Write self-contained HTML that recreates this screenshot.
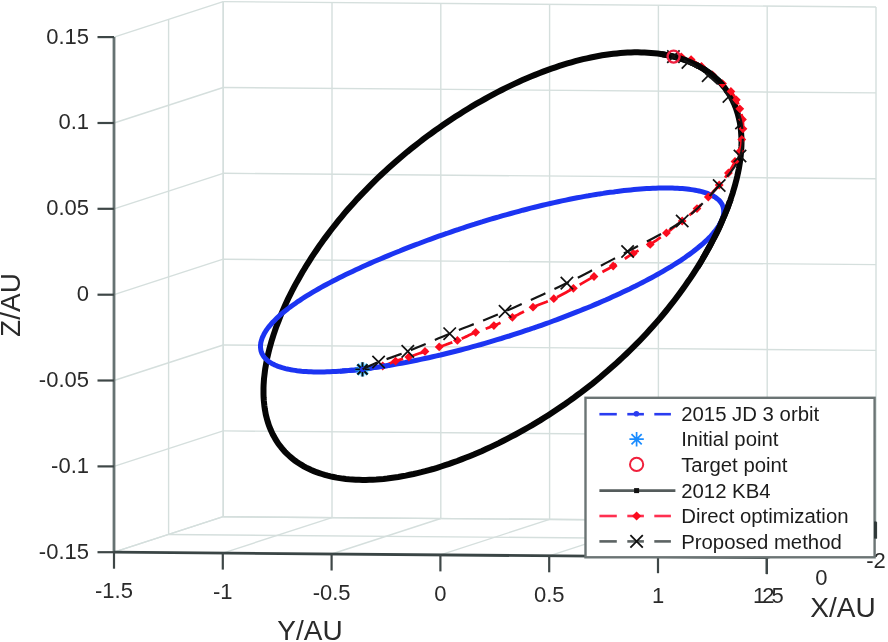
<!DOCTYPE html>
<html><head><meta charset="utf-8"><style>html,body{margin:0;padding:0;background:#fff;width:888px;height:642px;overflow:hidden}svg{display:block;filter:blur(0.35px)}</style></head>
<body>
<svg width="888" height="642" viewBox="0 0 888 642">
<style>
.g{stroke:#d5dfdd;stroke-width:1.4;fill:none}
.ax{stroke:#667272;stroke-width:2.8;fill:none}
.axy{stroke:#3a4545;stroke-width:2.8;fill:none}
.tk{stroke:#3e4747;stroke-width:2.2;fill:none}
.tl{font-family:"Liberation Sans",sans-serif;font-size:22px;fill:#2a2a2a}
.al{font-family:"Liberation Sans",sans-serif;font-size:28px;fill:#2a2a2a}
.lt{font-family:"Liberation Sans",sans-serif;font-size:20.35px;fill:#1c1c1c}
.kb{stroke:#050505;stroke-width:6;fill:none}
.jd{stroke:#1c34f2;stroke-width:5;fill:none}
.rd{stroke:#fb0c1e;stroke-width:2.8;fill:none;stroke-dasharray:16 10}
.bd{stroke:#151515;stroke-width:2.2;fill:none;stroke-dasharray:16 10}
.dm{fill:#fb0c1e}
.xm{stroke:#111;stroke-width:1.7;fill:none}
.as{stroke:#0a0a0a;stroke-width:1.9;fill:none}
.as2{stroke:#28b8ff;stroke-width:3.6;fill:none;opacity:.8}
.lb{fill:#fff;stroke:#6b7474;stroke-width:2.4}
.lbl{stroke:#2a3cf0;stroke-width:2.6}
.las{stroke:#1a8cff;stroke-width:1.7;fill:none}
.lci{stroke:#f0203c;stroke-width:2;fill:none}
.lk{stroke:#555c5c;stroke-width:2.6}
.lrd{stroke:#ff3050;stroke-width:2.6}
.lgd{stroke:#5c6363;stroke-width:2.6}
.lxm{stroke:#111;stroke-width:1.8;fill:none}
</style>
<rect width="888" height="642" fill="#fff"/>
<line x1="223.2" y1="516.7" x2="223.2" y2="1.6" class="g"/><line x1="332.0" y1="517.6" x2="332.0" y2="2.5" class="g"/><line x1="440.8" y1="518.5" x2="440.8" y2="3.4" class="g"/><line x1="549.6" y1="519.4" x2="549.6" y2="4.3" class="g"/><line x1="658.4" y1="520.3" x2="658.4" y2="5.2" class="g"/><line x1="767.2" y1="521.2" x2="767.2" y2="6.1" class="g"/><line x1="876.0" y1="522.1" x2="876.0" y2="7.0" class="g"/><line x1="223.2" y1="516.7" x2="876.0" y2="522.1" class="g"/><line x1="223.2" y1="430.9" x2="876.0" y2="436.3" class="g"/><line x1="223.2" y1="345.0" x2="876.0" y2="350.4" class="g"/><line x1="223.2" y1="259.2" x2="876.0" y2="264.6" class="g"/><line x1="223.2" y1="173.3" x2="876.0" y2="178.7" class="g"/><line x1="223.2" y1="87.5" x2="876.0" y2="92.9" class="g"/><line x1="223.2" y1="1.6" x2="876.0" y2="7.0" class="g"/><line x1="223.2" y1="516.7" x2="223.2" y2="1.6" class="g"/><line x1="168.6" y1="534.5" x2="168.6" y2="19.4" class="g"/><line x1="114.0" y1="552.2" x2="223.2" y2="516.7" class="g"/><line x1="114.0" y1="466.4" x2="223.2" y2="430.9" class="g"/><line x1="114.0" y1="380.5" x2="223.2" y2="345.0" class="g"/><line x1="114.0" y1="294.7" x2="223.2" y2="259.2" class="g"/><line x1="114.0" y1="208.8" x2="223.2" y2="173.3" class="g"/><line x1="114.0" y1="123.0" x2="223.2" y2="87.5" class="g"/><line x1="114.0" y1="37.1" x2="223.2" y2="1.6" class="g"/><line x1="114.0" y1="552.2" x2="223.2" y2="516.7" class="g"/><line x1="222.8" y1="553.1" x2="332.0" y2="517.6" class="g"/><line x1="331.6" y1="554.0" x2="440.8" y2="518.5" class="g"/><line x1="440.4" y1="554.9" x2="549.6" y2="519.4" class="g"/><line x1="549.2" y1="555.8" x2="658.4" y2="520.3" class="g"/><line x1="658.0" y1="556.7" x2="767.2" y2="521.2" class="g"/><line x1="766.8" y1="557.6" x2="876.0" y2="522.1" class="g"/><line x1="223.2" y1="516.7" x2="876.0" y2="522.1" class="g"/><line x1="168.6" y1="534.5" x2="821.4" y2="539.9" class="g"/>
<path d="M407.3,151.8 L411.2,148.7 L415.1,145.6 L419.1,142.5 L423.0,139.4 L427.0,136.4 L431.1,133.5 L435.1,130.5 L439.2,127.7 L443.3,124.8 L447.4,122.0 L451.5,119.3 L455.6,116.6 L459.8,113.9 L463.9,111.3 L468.1,108.7 L472.3,106.2 L476.5,103.7 L480.7,101.3 L484.9,99.0 L489.1,96.7 L493.3,94.4 L497.5,92.2 L501.7,90.0 L505.9,87.9 L510.1,85.9 L514.3,83.9 L518.4,82.0 L522.6,80.1 L526.8,78.3 L530.9,76.5 L535.0,74.9 L539.1,73.2 L543.2,71.6 L547.3,70.1 L551.4,68.7 L555.4,67.3 L559.4,65.9 L563.4,64.6 L567.4,63.4 L571.4,62.3 L575.3,61.2 L579.2,60.2 L583.1,59.2 L587.0,58.3 L590.8,57.5 L594.6,56.7 L598.4,56.0 L602.1,55.3 L605.9,54.7 L609.5,54.2 L613.2,53.8 L616.8,53.4 L620.4,53.0 L624.0,52.8 L627.5,52.6 L631.0,52.4 L634.4,52.3 L637.9,52.3 L641.2,52.4 L644.6,52.5 L647.9,52.7 L651.1,52.9 L654.4,53.2 L657.6,53.6 L660.7,54.0 L663.8,54.5 L666.8,55.1 L669.8,55.7 L672.8,56.4 L675.7,57.1 L678.6,57.9 L681.4,58.8 L684.1,59.7 L686.8,60.7 L689.5,61.8 L692.1,62.9 L694.6,64.1 L697.1,65.3 L699.6,66.6 L701.9,68.0 L704.3,69.4 L706.5,70.9 L708.7,72.4 L710.8,74.0 L712.9,75.6 L714.9,77.4 L716.8,79.1 L718.7,80.9 L720.5,82.8 L722.2,84.8 L723.8,86.7 L725.4,88.8 L726.9,90.9 L728.4,93.0 L729.8,95.3 L731.1,97.5 L732.3,99.8 L733.4,102.2 L734.5,104.6 L735.5,107.1 L736.4,109.6 L737.2,112.1 L738.0,114.7 L738.7,117.4 L739.3,120.1 L739.9,122.9 L740.3,125.6 L740.7,128.5 L741.0,131.4 L741.2,134.3 L741.4,137.2 L741.5,140.3 L741.5,143.3 L741.4,146.4 L741.2,149.5 L741.0,152.7 L740.7,155.9 L740.3,159.1 L739.9,162.3 L739.4,165.6 L738.8,169.0 L738.1,172.3 L737.4,175.7 L736.6,179.1 L735.7,182.6 L734.8,186.0 L733.7,189.5 L732.7,193.1 L731.5,196.6 L730.3,200.2 L729.0,203.8 L727.7,207.4 L726.3,211.0 L724.8,214.6 L723.2,218.3 L721.6,222.0 L720.0,225.7 L718.3,229.4 L716.5,233.1 L714.6,236.8 L712.7,240.5 L710.7,244.3 L708.7,248.0 L706.6,251.8 L704.5,255.5 L702.3,259.3 L700.0,263.1 L697.7,266.8 L695.3,270.6 L692.9,274.3 L690.4,278.1 L687.8,281.8 L685.2,285.6 L682.6,289.3 L679.9,293.0 L677.1,296.8 L674.3,300.5 L671.4,304.2 L668.5,307.9 L665.6,311.5 L662.5,315.2 L659.5,318.8 L656.4,322.4 L653.2,326.0 L650.0,329.6 L646.7,333.2 L643.4,336.7 L640.1,340.2 L636.7,343.7 L633.2,347.2 L629.7,350.6 L626.2,354.0 L622.6,357.4 L619.0,360.7 L615.4,364.1 L611.7,367.3 L608.0,370.6 L604.2,373.8 L600.5,377.0 L596.6,380.2 L592.8,383.3 L588.9,386.3 L585.0,389.4 L581.1,392.4 L577.1,395.3 L573.1,398.3 L569.1,401.1 L565.1,404.0 L561.0,406.8 L556.9,409.5 L552.8,412.2 L548.7,414.9 L544.6,417.5 L540.5,420.1 L536.3,422.6 L532.2,425.1 L528.0,427.5 L523.8,429.9 L519.7,432.2 L515.5,434.5 L511.3,436.7 L507.1,438.9 L502.9,441.0 L498.8,443.1 L494.6,445.1 L490.4,447.1 L486.2,449.0 L482.1,450.9 L477.9,452.7 L473.8,454.5 L469.6,456.2 L465.5,457.8 L461.4,459.4 L457.3,461.0 L453.2,462.4 L449.2,463.9 L445.1,465.2 L441.1,466.5 L437.1,467.8 L433.1,469.0 L429.1,470.1 L425.2,471.2 L421.3,472.2 L417.4,473.1 L413.5,474.0 L409.6,474.8 L405.8,475.6 L402.0,476.3 L398.3,477.0 L394.5,477.5 L390.8,478.0 L387.2,478.5 L383.5,478.9 L379.9,479.2 L376.3,479.5 L372.8,479.7 L369.3,479.8 L365.9,479.9 L362.4,479.9 L359.1,479.8 L355.7,479.7 L352.4,479.5 L349.2,479.3 L345.9,479.0 L342.8,478.6 L339.7,478.1 L336.6,477.6 L333.6,477.0 L330.6,476.4 L327.7,475.7 L324.8,474.9 L322.0,474.0 L319.2,473.1 L316.5,472.2 L313.8,471.1 L311.2,470.0 L308.7,468.8 L306.2,467.6 L303.8,466.3 L301.5,464.9 L299.2,463.5 L296.9,462.0 L294.8,460.5 L292.7,458.8 L290.7,457.2 L288.7,455.4 L286.8,453.6 L285.0,451.8 L283.2,449.9 L281.6,447.9 L280.0,445.8 L278.4,443.8 L277.0,441.6 L275.6,439.4 L274.3,437.1 L273.0,434.8 L271.9,432.5 L270.8,430.1 L269.8,427.6 L268.8,425.1 L268.0,422.5 L267.2,419.9 L266.5,417.2 L265.8,414.5 L265.3,411.7 L264.8,408.9 L264.4,406.1 L264.1,403.2 L263.8,400.3 L263.6,397.3 L263.5,394.3 L263.5,391.3 L263.5,388.2 L263.6,385.0 L263.8,381.9 L264.0,378.7 L264.4,375.5 L264.8,372.2 L265.2,368.9 L265.8,365.6 L266.4,362.3 L267.0,358.9 L267.8,355.5 L268.6,352.1 L269.5,348.6 L270.4,345.2 L271.4,341.7 L272.5,338.2 L273.6,334.6 L274.8,331.1 L276.0,327.5 L277.4,323.9 L278.8,320.3 L280.2,316.7 L281.7,313.1 L283.3,309.4 L284.9,305.8 L286.6,302.1 L288.3,298.4 L290.2,294.7 L292.0,291.0 L293.9,287.3 L295.9,283.6 L298.0,279.9 L300.1,276.2 L302.2,272.5 L304.5,268.8 L306.7,265.0 L309.1,261.3 L311.4,257.6 L313.9,253.9 L316.4,250.2 L318.9,246.5 L321.6,242.8 L324.2,239.1 L327.0,235.4 L329.7,231.7 L332.6,228.0 L335.5,224.4 L338.4,220.7 L341.4,217.1 L344.4,213.4 L347.5,209.8 L350.7,206.2 L353.9,202.7 L357.1,199.1 L360.4,195.6 L363.8,192.1 L367.2,188.6 L370.6,185.1 L374.1,181.6 L377.6,178.2 L381.2,174.8 L384.8,171.4 L388.5,168.1 L392.2,164.8 L395.9,161.5 L399.7,158.2 L403.5,155.0Z" class="kb"/>
<path d="M723.2,207.3 L722.9,206.3 L722.5,205.4 L722.1,204.4 L721.6,203.5 L721.0,202.7 L720.4,201.8 L719.7,201.0 L718.9,200.1 L718.0,199.4 L717.1,198.6 L716.1,197.9 L715.1,197.1 L714.0,196.5 L712.8,195.8 L711.5,195.1 L710.2,194.5 L708.8,194.0 L707.4,193.4 L705.8,192.9 L704.2,192.4 L702.6,191.9 L700.8,191.4 L699.0,191.0 L697.2,190.6 L695.2,190.2 L693.2,189.9 L691.2,189.6 L689.0,189.3 L686.9,189.0 L684.6,188.8 L682.3,188.6 L679.9,188.4 L677.4,188.3 L674.9,188.2 L672.4,188.1 L669.7,188.0 L667.1,188.0 L664.3,188.0 L661.5,188.0 L658.7,188.1 L655.8,188.2 L652.8,188.3 L649.8,188.4 L646.7,188.6 L643.6,188.8 L640.5,189.0 L637.3,189.3 L634.0,189.6 L630.7,189.9 L627.4,190.2 L624.0,190.6 L620.6,191.0 L617.2,191.4 L613.7,191.9 L610.2,192.3 L606.6,192.8 L603.0,193.4 L599.4,193.9 L595.8,194.5 L592.1,195.1 L588.4,195.8 L584.7,196.4 L581.0,197.1 L577.2,197.8 L573.4,198.5 L569.6,199.3 L565.8,200.1 L561.9,200.9 L558.1,201.7 L554.2,202.6 L550.3,203.5 L546.4,204.4 L542.5,205.3 L538.6,206.2 L534.6,207.2 L530.7,208.2 L526.7,209.2 L522.7,210.2 L518.8,211.3 L514.8,212.4 L510.8,213.5 L506.8,214.6 L502.8,215.7 L498.8,216.9 L494.8,218.0 L490.8,219.2 L486.7,220.4 L482.7,221.7 L478.7,222.9 L474.7,224.2 L470.7,225.4 L466.7,226.7 L462.7,228.0 L458.7,229.4 L454.7,230.7 L450.7,232.1 L446.7,233.5 L442.7,234.8 L438.7,236.2 L434.7,237.7 L430.8,239.1 L426.8,240.5 L422.9,242.0 L419.0,243.5 L415.1,244.9 L411.2,246.4 L407.3,247.9 L403.5,249.4 L399.7,251.0 L395.8,252.5 L392.1,254.0 L388.3,255.6 L384.6,257.1 L380.9,258.7 L377.2,260.3 L373.6,261.8 L370.0,263.4 L366.4,265.0 L362.9,266.6 L359.4,268.2 L355.9,269.8 L352.5,271.4 L349.1,273.0 L345.8,274.6 L342.5,276.2 L339.3,277.8 L336.1,279.4 L333.0,281.0 L330.0,282.6 L326.9,284.2 L324.0,285.8 L321.1,287.4 L318.3,289.0 L315.5,290.6 L312.8,292.2 L310.1,293.8 L307.5,295.4 L305.0,296.9 L302.5,298.5 L300.2,300.1 L297.8,301.6 L295.6,303.2 L293.4,304.7 L291.3,306.2 L289.2,307.7 L287.3,309.3 L285.4,310.7 L283.5,312.2 L281.8,313.7 L280.1,315.2 L278.5,316.6 L276.9,318.1 L275.5,319.5 L274.1,320.9 L272.7,322.3 L271.5,323.7 L270.3,325.1 L269.2,326.4 L268.1,327.8 L267.1,329.1 L266.2,330.4 L265.4,331.7 L264.6,333.0 L263.9,334.3 L263.3,335.6 L262.7,336.8 L262.2,338.0 L261.8,339.2 L261.4,340.4 L261.1,341.6 L260.8,342.7 L260.7,343.9 L260.5,345.0 L260.5,346.1 L260.5,347.1 L260.6,348.2 L260.7,349.2 L260.9,350.3 L261.1,351.3 L261.5,352.2 L261.8,353.2 L262.3,354.1 L262.8,355.1 L263.3,355.9 L263.9,356.8 L264.6,357.7 L265.4,358.5 L266.2,359.3 L267.0,360.1 L267.9,360.9 L268.9,361.6 L270.0,362.3 L271.1,363.0 L272.2,363.7 L273.5,364.3 L274.7,365.0 L276.1,365.5 L277.5,366.1 L279.0,366.7 L280.5,367.2 L282.1,367.7 L283.8,368.1 L285.5,368.6 L287.3,369.0 L289.1,369.4 L291.0,369.8 L293.0,370.1 L295.0,370.4 L297.1,370.7 L299.3,370.9 L301.5,371.2 L303.8,371.4 L306.2,371.5 L308.6,371.7 L311.0,371.8 L313.6,371.9 L316.2,371.9 L318.8,371.9 L321.5,371.9 L324.3,371.9 L327.1,371.8 L330.0,371.7 L332.9,371.6 L335.9,371.5 L339.0,371.3 L342.1,371.1 L345.2,370.8 L348.4,370.6 L351.6,370.3 L354.9,370.0 L358.3,369.6 L361.7,369.2 L365.1,368.8 L368.6,368.4 L372.1,367.9 L375.6,367.4 L379.2,366.9 L382.8,366.3 L386.5,365.8 L390.2,365.2 L393.9,364.5 L397.7,363.9 L401.4,363.2 L405.3,362.5 L409.1,361.7 L412.9,361.0 L416.8,360.2 L420.7,359.4 L424.7,358.5 L428.6,357.7 L432.6,356.8 L436.5,355.9 L440.5,355.0 L444.5,354.0 L448.5,353.0 L452.6,352.0 L456.6,351.0 L460.6,350.0 L464.7,348.9 L468.7,347.8 L472.8,346.7 L476.8,345.6 L480.9,344.5 L484.9,343.3 L489.0,342.1 L493.1,340.9 L497.1,339.7 L501.2,338.5 L505.2,337.2 L509.3,336.0 L513.3,334.7 L517.3,333.4 L521.3,332.1 L525.4,330.7 L529.4,329.4 L533.3,328.0 L537.3,326.7 L541.3,325.3 L545.2,323.9 L549.2,322.5 L553.1,321.0 L557.0,319.6 L560.9,318.1 L564.7,316.7 L568.6,315.2 L572.4,313.7 L576.2,312.2 L579.9,310.7 L583.7,309.2 L587.4,307.7 L591.1,306.2 L594.8,304.6 L598.4,303.1 L602.0,301.5 L605.6,300.0 L609.1,298.4 L612.6,296.8 L616.1,295.3 L619.5,293.7 L622.9,292.1 L626.2,290.5 L629.6,288.9 L632.8,287.3 L636.1,285.7 L639.2,284.1 L642.4,282.5 L645.5,280.9 L648.5,279.3 L651.5,277.7 L654.4,276.1 L657.3,274.5 L660.2,272.9 L662.9,271.3 L665.7,269.7 L668.3,268.2 L671.0,266.6 L673.5,265.0 L676.0,263.4 L678.5,261.8 L680.9,260.3 L683.2,258.7 L685.4,257.2 L687.6,255.6 L689.8,254.1 L691.9,252.6 L693.9,251.0 L695.8,249.5 L697.7,248.0 L699.5,246.5 L701.3,245.0 L703.0,243.6 L704.6,242.1 L706.2,240.7 L707.7,239.2 L709.1,237.8 L710.5,236.4 L711.8,235.0 L713.0,233.6 L714.1,232.2 L715.2,230.9 L716.3,229.5 L717.2,228.2 L718.1,226.9 L719.0,225.6 L719.7,224.3 L720.4,223.0 L721.1,221.8 L721.6,220.6 L722.1,219.4 L722.6,218.2 L722.9,217.0 L723.2,215.8 L723.5,214.7 L723.6,213.6 L723.7,212.5 L723.7,211.4 L723.7,210.3 L723.6,209.3 L723.4,208.3Z" class="jd"/>
<clipPath id="cr"><rect x="700" y="200" width="60" height="80"/></clipPath>
<clipPath id="ctr"><rect x="662" y="40" width="100" height="44"/></clipPath>
<clipPath id="cs"><rect x="340" y="355" width="50" height="25"/></clipPath>
<path d="M407.3,151.8 L411.2,148.7 L415.1,145.6 L419.1,142.5 L423.0,139.4 L427.0,136.4 L431.1,133.5 L435.1,130.5 L439.2,127.7 L443.3,124.8 L447.4,122.0 L451.5,119.3 L455.6,116.6 L459.8,113.9 L463.9,111.3 L468.1,108.7 L472.3,106.2 L476.5,103.7 L480.7,101.3 L484.9,99.0 L489.1,96.7 L493.3,94.4 L497.5,92.2 L501.7,90.0 L505.9,87.9 L510.1,85.9 L514.3,83.9 L518.4,82.0 L522.6,80.1 L526.8,78.3 L530.9,76.5 L535.0,74.9 L539.1,73.2 L543.2,71.6 L547.3,70.1 L551.4,68.7 L555.4,67.3 L559.4,65.9 L563.4,64.6 L567.4,63.4 L571.4,62.3 L575.3,61.2 L579.2,60.2 L583.1,59.2 L587.0,58.3 L590.8,57.5 L594.6,56.7 L598.4,56.0 L602.1,55.3 L605.9,54.7 L609.5,54.2 L613.2,53.8 L616.8,53.4 L620.4,53.0 L624.0,52.8 L627.5,52.6 L631.0,52.4 L634.4,52.3 L637.9,52.3 L641.2,52.4 L644.6,52.5 L647.9,52.7 L651.1,52.9 L654.4,53.2 L657.6,53.6 L660.7,54.0 L663.8,54.5 L666.8,55.1 L669.8,55.7 L672.8,56.4 L675.7,57.1 L678.6,57.9 L681.4,58.8 L684.1,59.7 L686.8,60.7 L689.5,61.8 L692.1,62.9 L694.6,64.1 L697.1,65.3 L699.6,66.6 L701.9,68.0 L704.3,69.4 L706.5,70.9 L708.7,72.4 L710.8,74.0 L712.9,75.6 L714.9,77.4 L716.8,79.1 L718.7,80.9 L720.5,82.8 L722.2,84.8 L723.8,86.7 L725.4,88.8 L726.9,90.9 L728.4,93.0 L729.8,95.3 L731.1,97.5 L732.3,99.8 L733.4,102.2 L734.5,104.6 L735.5,107.1 L736.4,109.6 L737.2,112.1 L738.0,114.7 L738.7,117.4 L739.3,120.1 L739.9,122.9 L740.3,125.6 L740.7,128.5 L741.0,131.4 L741.2,134.3 L741.4,137.2 L741.5,140.3 L741.5,143.3 L741.4,146.4 L741.2,149.5 L741.0,152.7 L740.7,155.9 L740.3,159.1 L739.9,162.3 L739.4,165.6 L738.8,169.0 L738.1,172.3 L737.4,175.7 L736.6,179.1 L735.7,182.6 L734.8,186.0 L733.7,189.5 L732.7,193.1 L731.5,196.6 L730.3,200.2 L729.0,203.8 L727.7,207.4 L726.3,211.0 L724.8,214.6 L723.2,218.3 L721.6,222.0 L720.0,225.7 L718.3,229.4 L716.5,233.1 L714.6,236.8 L712.7,240.5 L710.7,244.3 L708.7,248.0 L706.6,251.8 L704.5,255.5 L702.3,259.3 L700.0,263.1 L697.7,266.8 L695.3,270.6 L692.9,274.3 L690.4,278.1 L687.8,281.8 L685.2,285.6 L682.6,289.3 L679.9,293.0 L677.1,296.8 L674.3,300.5 L671.4,304.2 L668.5,307.9 L665.6,311.5 L662.5,315.2 L659.5,318.8 L656.4,322.4 L653.2,326.0 L650.0,329.6 L646.7,333.2 L643.4,336.7 L640.1,340.2 L636.7,343.7 L633.2,347.2 L629.7,350.6 L626.2,354.0 L622.6,357.4 L619.0,360.7 L615.4,364.1 L611.7,367.3 L608.0,370.6 L604.2,373.8 L600.5,377.0 L596.6,380.2 L592.8,383.3 L588.9,386.3 L585.0,389.4 L581.1,392.4 L577.1,395.3 L573.1,398.3 L569.1,401.1 L565.1,404.0 L561.0,406.8 L556.9,409.5 L552.8,412.2 L548.7,414.9 L544.6,417.5 L540.5,420.1 L536.3,422.6 L532.2,425.1 L528.0,427.5 L523.8,429.9 L519.7,432.2 L515.5,434.5 L511.3,436.7 L507.1,438.9 L502.9,441.0 L498.8,443.1 L494.6,445.1 L490.4,447.1 L486.2,449.0 L482.1,450.9 L477.9,452.7 L473.8,454.5 L469.6,456.2 L465.5,457.8 L461.4,459.4 L457.3,461.0 L453.2,462.4 L449.2,463.9 L445.1,465.2 L441.1,466.5 L437.1,467.8 L433.1,469.0 L429.1,470.1 L425.2,471.2 L421.3,472.2 L417.4,473.1 L413.5,474.0 L409.6,474.8 L405.8,475.6 L402.0,476.3 L398.3,477.0 L394.5,477.5 L390.8,478.0 L387.2,478.5 L383.5,478.9 L379.9,479.2 L376.3,479.5 L372.8,479.7 L369.3,479.8 L365.9,479.9 L362.4,479.9 L359.1,479.8 L355.7,479.7 L352.4,479.5 L349.2,479.3 L345.9,479.0 L342.8,478.6 L339.7,478.1 L336.6,477.6 L333.6,477.0 L330.6,476.4 L327.7,475.7 L324.8,474.9 L322.0,474.0 L319.2,473.1 L316.5,472.2 L313.8,471.1 L311.2,470.0 L308.7,468.8 L306.2,467.6 L303.8,466.3 L301.5,464.9 L299.2,463.5 L296.9,462.0 L294.8,460.5 L292.7,458.8 L290.7,457.2 L288.7,455.4 L286.8,453.6 L285.0,451.8 L283.2,449.9 L281.6,447.9 L280.0,445.8 L278.4,443.8 L277.0,441.6 L275.6,439.4 L274.3,437.1 L273.0,434.8 L271.9,432.5 L270.8,430.1 L269.8,427.6 L268.8,425.1 L268.0,422.5 L267.2,419.9 L266.5,417.2 L265.8,414.5 L265.3,411.7 L264.8,408.9 L264.4,406.1 L264.1,403.2 L263.8,400.3 L263.6,397.3 L263.5,394.3 L263.5,391.3 L263.5,388.2 L263.6,385.0 L263.8,381.9 L264.0,378.7 L264.4,375.5 L264.8,372.2 L265.2,368.9 L265.8,365.6 L266.4,362.3 L267.0,358.9 L267.8,355.5 L268.6,352.1 L269.5,348.6 L270.4,345.2 L271.4,341.7 L272.5,338.2 L273.6,334.6 L274.8,331.1 L276.0,327.5 L277.4,323.9 L278.8,320.3 L280.2,316.7 L281.7,313.1 L283.3,309.4 L284.9,305.8 L286.6,302.1 L288.3,298.4 L290.2,294.7 L292.0,291.0 L293.9,287.3 L295.9,283.6 L298.0,279.9 L300.1,276.2 L302.2,272.5 L304.5,268.8 L306.7,265.0 L309.1,261.3 L311.4,257.6 L313.9,253.9 L316.4,250.2 L318.9,246.5 L321.6,242.8 L324.2,239.1 L327.0,235.4 L329.7,231.7 L332.6,228.0 L335.5,224.4 L338.4,220.7 L341.4,217.1 L344.4,213.4 L347.5,209.8 L350.7,206.2 L353.9,202.7 L357.1,199.1 L360.4,195.6 L363.8,192.1 L367.2,188.6 L370.6,185.1 L374.1,181.6 L377.6,178.2 L381.2,174.8 L384.8,171.4 L388.5,168.1 L392.2,164.8 L395.9,161.5 L399.7,158.2 L403.5,155.0Z" class="kb" clip-path="url(#cr)"/>
<path d="M362.6,369.2 L363.4,369.1 L364.4,368.9 L365.6,368.8 L367.0,368.6 L368.4,368.3 L369.9,368.1 L371.3,367.9 L372.6,367.7 L373.8,367.5 L375.1,367.4 L376.3,367.2 L377.5,367.1 L378.7,366.9 L380.0,366.7 L381.3,366.4 L382.7,366.0 L384.2,365.5 L385.7,365.0 L387.3,364.4 L389.0,363.7 L390.6,363.0 L392.3,362.3 L394.0,361.7 L395.6,361.1 L397.2,360.6 L398.8,360.1 L400.4,359.6 L402.0,359.1 L403.6,358.6 L405.3,358.1 L407.0,357.6 L408.8,357.0 L410.7,356.4 L412.7,355.7 L414.7,355.0 L416.8,354.2 L418.9,353.5 L421.0,352.8 L423.1,352.1 L425.0,351.4 L426.8,350.8 L428.6,350.2 L430.3,349.7 L432.0,349.2 L433.7,348.7 L435.4,348.1 L437.2,347.6 L439.2,346.9 L441.3,346.2 L443.5,345.5 L445.7,344.7 L448.0,343.9 L450.4,343.0 L452.7,342.2 L455.1,341.3 L457.4,340.4 L459.7,339.5 L462.0,338.5 L464.3,337.4 L466.6,336.4 L468.8,335.3 L471.1,334.3 L473.4,333.3 L475.7,332.3 L478.0,331.4 L480.2,330.6 L482.5,329.8 L484.8,329.0 L487.1,328.2 L489.3,327.4 L491.6,326.5 L493.9,325.6 L496.2,324.7 L498.5,323.7 L500.7,322.7 L503.0,321.7 L505.3,320.6 L507.6,319.5 L510.0,318.4 L512.4,317.3 L514.9,316.1 L517.4,314.9 L520.0,313.6 L522.6,312.3 L525.2,310.9 L527.8,309.7 L530.4,308.4 L533.0,307.2 L535.6,306.1 L538.2,305.0 L540.8,304.0 L543.5,303.0 L546.1,302.0 L548.7,300.9 L551.3,299.8 L553.8,298.7 L556.3,297.5 L558.8,296.3 L561.2,295.0 L563.6,293.7 L566.0,292.4 L568.5,291.0 L570.9,289.7 L573.4,288.3 L575.9,286.9 L578.5,285.4 L581.1,283.9 L583.7,282.4 L586.3,280.9 L588.9,279.4 L591.5,277.9 L594.0,276.5 L596.5,275.1 L598.9,273.8 L601.3,272.6 L603.6,271.3 L606.0,270.0 L608.4,268.7 L610.8,267.4 L613.2,266.0 L615.7,264.5 L618.2,262.9 L620.8,261.3 L623.3,259.6 L625.9,258.0 L628.4,256.3 L630.8,254.8 L633.2,253.4 L635.5,252.1 L637.7,251.0 L639.8,249.9 L641.9,248.8 L644.0,247.8 L646.1,246.7 L648.1,245.6 L650.2,244.4 L652.3,243.1 L654.3,241.7 L656.4,240.3 L658.4,238.8 L660.4,237.4 L662.4,235.9 L664.4,234.4 L666.4,232.9 L668.4,231.4 L670.4,230.0 L672.4,228.5 L674.4,227.0 L676.4,225.5 L678.3,224.0 L680.3,222.5 L682.2,221.0 L684.1,219.5 L686.1,217.9 L688.0,216.4 L689.9,214.8 L691.8,213.2 L693.6,211.7 L695.3,210.1 L697.0,208.6 L698.6,207.1 L700.1,205.7 L701.5,204.2 L702.9,202.8 L704.2,201.3 L705.6,199.9 L706.9,198.5 L708.3,197.0 L709.7,195.5 L711.1,194.0 L712.5,192.5 L713.9,191.0 L715.3,189.5 L716.6,188.0 L717.9,186.5 L719.2,185.0 L720.4,183.5 L721.7,182.0 L722.9,180.5 L724.1,179.0 L725.2,177.5 L726.3,176.0 L727.4,174.5 L728.4,173.0 L729.4,171.5 L730.3,170.1 L731.1,168.6 L732.0,167.1 L732.8,165.7 L733.5,164.3 L734.3,162.9 L735.0,161.5 L735.7,160.2 L736.4,158.9 L737.1,157.6 L737.8,156.4 L738.4,155.1 L739.0,153.8 L739.5,152.5 L740.0,151.2 L740.4,149.8 L740.7,148.3 L740.9,146.9 L741.1,145.4 L741.3,143.9 L741.5,142.4 L741.6,140.9 L741.8,139.5 L742.0,138.1 L742.2,136.7 L742.4,135.4 L742.5,134.0 L742.7,132.7 L742.8,131.4 L742.9,130.1 L743.0,128.8 L743.0,127.6 L743.0,126.4 L743.0,125.2 L743.0,124.1 L742.9,123.0 L742.8,121.8 L742.7,120.6 L742.5,119.4 L742.3,118.1 L742.0,116.8 L741.7,115.4 L741.3,114.1 L741.0,112.7 L740.6,111.4 L740.2,110.1 L739.8,108.8 L739.4,107.6 L739.0,106.4 L738.6,105.3 L738.2,104.2 L737.8,103.1 L737.3,102.0 L736.8,100.9 L736.3,99.8 L735.7,98.7 L735.2,97.6 L734.5,96.6 L733.9,95.5 L733.2,94.5 L732.5,93.4 L731.7,92.4 L730.9,91.4 L730.0,90.4 L729.0,89.4 L728.0,88.5 L727.0,87.5 L725.9,86.6 L724.8,85.6 L723.6,84.6 L722.5,83.6 L721.3,82.6 L720.1,81.5 L718.9,80.4 L717.7,79.3 L716.4,78.3 L715.1,77.2 L713.8,76.1 L712.5,75.0 L711.2,73.9 L709.8,72.8 L708.4,71.7 L707.0,70.6 L705.6,69.6 L704.2,68.5 L702.9,67.5 L701.5,66.5 L700.2,65.5 L698.8,64.6 L697.5,63.6 L696.2,62.7 L694.9,61.8 L693.6,61.0 L692.4,60.3 L691.1,59.6 L689.8,59.0 L688.6,58.6 L687.3,58.1 L686.0,57.8 L684.8,57.5 L683.6,57.2 L682.4,57.0 L681.3,56.8 L680.2,56.6 L679.0,56.6 L677.9,56.5 L676.7,56.5 L675.7,56.5 L674.8,56.6 L674.0,56.6 L673.4,56.6" class="rd"/>
<path d="M382.7,361.6 L387.1,366.0 L382.7,370.4 L378.3,366.0Z" class="dm"/><path d="M395.6,356.7 L400.0,361.1 L395.6,365.5 L391.2,361.1Z" class="dm"/><path d="M408.8,352.6 L413.2,357.0 L408.8,361.4 L404.4,357.0Z" class="dm"/><path d="M425.0,347.0 L429.4,351.4 L425.0,355.8 L420.6,351.4Z" class="dm"/><path d="M439.2,342.5 L443.6,346.9 L439.2,351.3 L434.8,346.9Z" class="dm"/><path d="M457.4,336.0 L461.8,340.4 L457.4,344.8 L453.0,340.4Z" class="dm"/><path d="M475.7,327.9 L480.1,332.3 L475.7,336.7 L471.3,332.3Z" class="dm"/><path d="M493.9,321.2 L498.3,325.6 L493.9,330.0 L489.5,325.6Z" class="dm"/><path d="M512.4,312.9 L516.8,317.3 L512.4,321.7 L508.0,317.3Z" class="dm"/><path d="M533.0,302.8 L537.4,307.2 L533.0,311.6 L528.6,307.2Z" class="dm"/><path d="M553.8,294.3 L558.2,298.7 L553.8,303.1 L549.4,298.7Z" class="dm"/><path d="M573.4,283.9 L577.8,288.3 L573.4,292.7 L569.0,288.3Z" class="dm"/><path d="M594.0,272.1 L598.4,276.5 L594.0,280.9 L589.6,276.5Z" class="dm"/><path d="M613.2,261.6 L617.6,266.0 L613.2,270.4 L608.8,266.0Z" class="dm"/><path d="M633.2,249.0 L637.6,253.4 L633.2,257.8 L628.8,253.4Z" class="dm"/><path d="M650.2,240.0 L654.6,244.4 L650.2,248.8 L645.8,244.4Z" class="dm"/><path d="M666.4,228.5 L670.8,232.9 L666.4,237.3 L662.0,232.9Z" class="dm"/><path d="M682.2,216.6 L686.6,221.0 L682.2,225.4 L677.8,221.0Z" class="dm"/><path d="M697.0,204.2 L701.4,208.6 L697.0,213.0 L692.6,208.6Z" class="dm"/><path d="M708.3,192.6 L712.7,197.0 L708.3,201.4 L703.9,197.0Z" class="dm"/><path d="M719.2,180.6 L723.6,185.0 L719.2,189.4 L714.8,185.0Z" class="dm"/><path d="M728.4,168.6 L732.8,173.0 L728.4,177.4 L724.0,173.0Z" class="dm"/><path d="M735.0,157.1 L739.4,161.5 L735.0,165.9 L730.6,161.5Z" class="dm"/><path d="M740.0,146.8 L744.4,151.2 L740.0,155.6 L735.6,151.2Z" class="dm"/><path d="M741.8,135.1 L746.2,139.5 L741.8,143.9 L737.4,139.5Z" class="dm"/><path d="M743.0,124.4 L747.4,128.8 L743.0,133.2 L738.6,128.8Z" class="dm"/><path d="M742.5,115.0 L746.9,119.4 L742.5,123.8 L738.1,119.4Z" class="dm"/><path d="M739.8,104.4 L744.2,108.8 L739.8,113.2 L735.4,108.8Z" class="dm"/><path d="M736.3,95.4 L740.7,99.8 L736.3,104.2 L731.9,99.8Z" class="dm"/><path d="M730.9,87.0 L735.3,91.4 L730.9,95.8 L726.5,91.4Z" class="dm"/><path d="M722.5,79.2 L726.9,83.6 L722.5,88.0 L718.1,83.6Z" class="dm"/><path d="M712.5,70.6 L716.9,75.0 L712.5,79.4 L708.1,75.0Z" class="dm"/><path d="M701.5,62.1 L705.9,66.5 L701.5,70.9 L697.1,66.5Z" class="dm"/><path d="M691.1,55.2 L695.5,59.6 L691.1,64.0 L686.7,59.6Z" class="dm"/><path d="M681.3,52.4 L685.7,56.8 L681.3,61.2 L676.9,56.8Z" class="dm"/>
<path d="M407.3,151.8 L411.2,148.7 L415.1,145.6 L419.1,142.5 L423.0,139.4 L427.0,136.4 L431.1,133.5 L435.1,130.5 L439.2,127.7 L443.3,124.8 L447.4,122.0 L451.5,119.3 L455.6,116.6 L459.8,113.9 L463.9,111.3 L468.1,108.7 L472.3,106.2 L476.5,103.7 L480.7,101.3 L484.9,99.0 L489.1,96.7 L493.3,94.4 L497.5,92.2 L501.7,90.0 L505.9,87.9 L510.1,85.9 L514.3,83.9 L518.4,82.0 L522.6,80.1 L526.8,78.3 L530.9,76.5 L535.0,74.9 L539.1,73.2 L543.2,71.6 L547.3,70.1 L551.4,68.7 L555.4,67.3 L559.4,65.9 L563.4,64.6 L567.4,63.4 L571.4,62.3 L575.3,61.2 L579.2,60.2 L583.1,59.2 L587.0,58.3 L590.8,57.5 L594.6,56.7 L598.4,56.0 L602.1,55.3 L605.9,54.7 L609.5,54.2 L613.2,53.8 L616.8,53.4 L620.4,53.0 L624.0,52.8 L627.5,52.6 L631.0,52.4 L634.4,52.3 L637.9,52.3 L641.2,52.4 L644.6,52.5 L647.9,52.7 L651.1,52.9 L654.4,53.2 L657.6,53.6 L660.7,54.0 L663.8,54.5 L666.8,55.1 L669.8,55.7 L672.8,56.4 L675.7,57.1 L678.6,57.9 L681.4,58.8 L684.1,59.7 L686.8,60.7 L689.5,61.8 L692.1,62.9 L694.6,64.1 L697.1,65.3 L699.6,66.6 L701.9,68.0 L704.3,69.4 L706.5,70.9 L708.7,72.4 L710.8,74.0 L712.9,75.6 L714.9,77.4 L716.8,79.1 L718.7,80.9 L720.5,82.8 L722.2,84.8 L723.8,86.7 L725.4,88.8 L726.9,90.9 L728.4,93.0 L729.8,95.3 L731.1,97.5 L732.3,99.8 L733.4,102.2 L734.5,104.6 L735.5,107.1 L736.4,109.6 L737.2,112.1 L738.0,114.7 L738.7,117.4 L739.3,120.1 L739.9,122.9 L740.3,125.6 L740.7,128.5 L741.0,131.4 L741.2,134.3 L741.4,137.2 L741.5,140.3 L741.5,143.3 L741.4,146.4 L741.2,149.5 L741.0,152.7 L740.7,155.9 L740.3,159.1 L739.9,162.3 L739.4,165.6 L738.8,169.0 L738.1,172.3 L737.4,175.7 L736.6,179.1 L735.7,182.6 L734.8,186.0 L733.7,189.5 L732.7,193.1 L731.5,196.6 L730.3,200.2 L729.0,203.8 L727.7,207.4 L726.3,211.0 L724.8,214.6 L723.2,218.3 L721.6,222.0 L720.0,225.7 L718.3,229.4 L716.5,233.1 L714.6,236.8 L712.7,240.5 L710.7,244.3 L708.7,248.0 L706.6,251.8 L704.5,255.5 L702.3,259.3 L700.0,263.1 L697.7,266.8 L695.3,270.6 L692.9,274.3 L690.4,278.1 L687.8,281.8 L685.2,285.6 L682.6,289.3 L679.9,293.0 L677.1,296.8 L674.3,300.5 L671.4,304.2 L668.5,307.9 L665.6,311.5 L662.5,315.2 L659.5,318.8 L656.4,322.4 L653.2,326.0 L650.0,329.6 L646.7,333.2 L643.4,336.7 L640.1,340.2 L636.7,343.7 L633.2,347.2 L629.7,350.6 L626.2,354.0 L622.6,357.4 L619.0,360.7 L615.4,364.1 L611.7,367.3 L608.0,370.6 L604.2,373.8 L600.5,377.0 L596.6,380.2 L592.8,383.3 L588.9,386.3 L585.0,389.4 L581.1,392.4 L577.1,395.3 L573.1,398.3 L569.1,401.1 L565.1,404.0 L561.0,406.8 L556.9,409.5 L552.8,412.2 L548.7,414.9 L544.6,417.5 L540.5,420.1 L536.3,422.6 L532.2,425.1 L528.0,427.5 L523.8,429.9 L519.7,432.2 L515.5,434.5 L511.3,436.7 L507.1,438.9 L502.9,441.0 L498.8,443.1 L494.6,445.1 L490.4,447.1 L486.2,449.0 L482.1,450.9 L477.9,452.7 L473.8,454.5 L469.6,456.2 L465.5,457.8 L461.4,459.4 L457.3,461.0 L453.2,462.4 L449.2,463.9 L445.1,465.2 L441.1,466.5 L437.1,467.8 L433.1,469.0 L429.1,470.1 L425.2,471.2 L421.3,472.2 L417.4,473.1 L413.5,474.0 L409.6,474.8 L405.8,475.6 L402.0,476.3 L398.3,477.0 L394.5,477.5 L390.8,478.0 L387.2,478.5 L383.5,478.9 L379.9,479.2 L376.3,479.5 L372.8,479.7 L369.3,479.8 L365.9,479.9 L362.4,479.9 L359.1,479.8 L355.7,479.7 L352.4,479.5 L349.2,479.3 L345.9,479.0 L342.8,478.6 L339.7,478.1 L336.6,477.6 L333.6,477.0 L330.6,476.4 L327.7,475.7 L324.8,474.9 L322.0,474.0 L319.2,473.1 L316.5,472.2 L313.8,471.1 L311.2,470.0 L308.7,468.8 L306.2,467.6 L303.8,466.3 L301.5,464.9 L299.2,463.5 L296.9,462.0 L294.8,460.5 L292.7,458.8 L290.7,457.2 L288.7,455.4 L286.8,453.6 L285.0,451.8 L283.2,449.9 L281.6,447.9 L280.0,445.8 L278.4,443.8 L277.0,441.6 L275.6,439.4 L274.3,437.1 L273.0,434.8 L271.9,432.5 L270.8,430.1 L269.8,427.6 L268.8,425.1 L268.0,422.5 L267.2,419.9 L266.5,417.2 L265.8,414.5 L265.3,411.7 L264.8,408.9 L264.4,406.1 L264.1,403.2 L263.8,400.3 L263.6,397.3 L263.5,394.3 L263.5,391.3 L263.5,388.2 L263.6,385.0 L263.8,381.9 L264.0,378.7 L264.4,375.5 L264.8,372.2 L265.2,368.9 L265.8,365.6 L266.4,362.3 L267.0,358.9 L267.8,355.5 L268.6,352.1 L269.5,348.6 L270.4,345.2 L271.4,341.7 L272.5,338.2 L273.6,334.6 L274.8,331.1 L276.0,327.5 L277.4,323.9 L278.8,320.3 L280.2,316.7 L281.7,313.1 L283.3,309.4 L284.9,305.8 L286.6,302.1 L288.3,298.4 L290.2,294.7 L292.0,291.0 L293.9,287.3 L295.9,283.6 L298.0,279.9 L300.1,276.2 L302.2,272.5 L304.5,268.8 L306.7,265.0 L309.1,261.3 L311.4,257.6 L313.9,253.9 L316.4,250.2 L318.9,246.5 L321.6,242.8 L324.2,239.1 L327.0,235.4 L329.7,231.7 L332.6,228.0 L335.5,224.4 L338.4,220.7 L341.4,217.1 L344.4,213.4 L347.5,209.8 L350.7,206.2 L353.9,202.7 L357.1,199.1 L360.4,195.6 L363.8,192.1 L367.2,188.6 L370.6,185.1 L374.1,181.6 L377.6,178.2 L381.2,174.8 L384.8,171.4 L388.5,168.1 L392.2,164.8 L395.9,161.5 L399.7,158.2 L403.5,155.0Z" class="kb" clip-path="url(#ctr)"/>
<path d="M723.2,207.3 L722.9,206.3 L722.5,205.4 L722.1,204.4 L721.6,203.5 L721.0,202.7 L720.4,201.8 L719.7,201.0 L718.9,200.1 L718.0,199.4 L717.1,198.6 L716.1,197.9 L715.1,197.1 L714.0,196.5 L712.8,195.8 L711.5,195.1 L710.2,194.5 L708.8,194.0 L707.4,193.4 L705.8,192.9 L704.2,192.4 L702.6,191.9 L700.8,191.4 L699.0,191.0 L697.2,190.6 L695.2,190.2 L693.2,189.9 L691.2,189.6 L689.0,189.3 L686.9,189.0 L684.6,188.8 L682.3,188.6 L679.9,188.4 L677.4,188.3 L674.9,188.2 L672.4,188.1 L669.7,188.0 L667.1,188.0 L664.3,188.0 L661.5,188.0 L658.7,188.1 L655.8,188.2 L652.8,188.3 L649.8,188.4 L646.7,188.6 L643.6,188.8 L640.5,189.0 L637.3,189.3 L634.0,189.6 L630.7,189.9 L627.4,190.2 L624.0,190.6 L620.6,191.0 L617.2,191.4 L613.7,191.9 L610.2,192.3 L606.6,192.8 L603.0,193.4 L599.4,193.9 L595.8,194.5 L592.1,195.1 L588.4,195.8 L584.7,196.4 L581.0,197.1 L577.2,197.8 L573.4,198.5 L569.6,199.3 L565.8,200.1 L561.9,200.9 L558.1,201.7 L554.2,202.6 L550.3,203.5 L546.4,204.4 L542.5,205.3 L538.6,206.2 L534.6,207.2 L530.7,208.2 L526.7,209.2 L522.7,210.2 L518.8,211.3 L514.8,212.4 L510.8,213.5 L506.8,214.6 L502.8,215.7 L498.8,216.9 L494.8,218.0 L490.8,219.2 L486.7,220.4 L482.7,221.7 L478.7,222.9 L474.7,224.2 L470.7,225.4 L466.7,226.7 L462.7,228.0 L458.7,229.4 L454.7,230.7 L450.7,232.1 L446.7,233.5 L442.7,234.8 L438.7,236.2 L434.7,237.7 L430.8,239.1 L426.8,240.5 L422.9,242.0 L419.0,243.5 L415.1,244.9 L411.2,246.4 L407.3,247.9 L403.5,249.4 L399.7,251.0 L395.8,252.5 L392.1,254.0 L388.3,255.6 L384.6,257.1 L380.9,258.7 L377.2,260.3 L373.6,261.8 L370.0,263.4 L366.4,265.0 L362.9,266.6 L359.4,268.2 L355.9,269.8 L352.5,271.4 L349.1,273.0 L345.8,274.6 L342.5,276.2 L339.3,277.8 L336.1,279.4 L333.0,281.0 L330.0,282.6 L326.9,284.2 L324.0,285.8 L321.1,287.4 L318.3,289.0 L315.5,290.6 L312.8,292.2 L310.1,293.8 L307.5,295.4 L305.0,296.9 L302.5,298.5 L300.2,300.1 L297.8,301.6 L295.6,303.2 L293.4,304.7 L291.3,306.2 L289.2,307.7 L287.3,309.3 L285.4,310.7 L283.5,312.2 L281.8,313.7 L280.1,315.2 L278.5,316.6 L276.9,318.1 L275.5,319.5 L274.1,320.9 L272.7,322.3 L271.5,323.7 L270.3,325.1 L269.2,326.4 L268.1,327.8 L267.1,329.1 L266.2,330.4 L265.4,331.7 L264.6,333.0 L263.9,334.3 L263.3,335.6 L262.7,336.8 L262.2,338.0 L261.8,339.2 L261.4,340.4 L261.1,341.6 L260.8,342.7 L260.7,343.9 L260.5,345.0 L260.5,346.1 L260.5,347.1 L260.6,348.2 L260.7,349.2 L260.9,350.3 L261.1,351.3 L261.5,352.2 L261.8,353.2 L262.3,354.1 L262.8,355.1 L263.3,355.9 L263.9,356.8 L264.6,357.7 L265.4,358.5 L266.2,359.3 L267.0,360.1 L267.9,360.9 L268.9,361.6 L270.0,362.3 L271.1,363.0 L272.2,363.7 L273.5,364.3 L274.7,365.0 L276.1,365.5 L277.5,366.1 L279.0,366.7 L280.5,367.2 L282.1,367.7 L283.8,368.1 L285.5,368.6 L287.3,369.0 L289.1,369.4 L291.0,369.8 L293.0,370.1 L295.0,370.4 L297.1,370.7 L299.3,370.9 L301.5,371.2 L303.8,371.4 L306.2,371.5 L308.6,371.7 L311.0,371.8 L313.6,371.9 L316.2,371.9 L318.8,371.9 L321.5,371.9 L324.3,371.9 L327.1,371.8 L330.0,371.7 L332.9,371.6 L335.9,371.5 L339.0,371.3 L342.1,371.1 L345.2,370.8 L348.4,370.6 L351.6,370.3 L354.9,370.0 L358.3,369.6 L361.7,369.2 L365.1,368.8 L368.6,368.4 L372.1,367.9 L375.6,367.4 L379.2,366.9 L382.8,366.3 L386.5,365.8 L390.2,365.2 L393.9,364.5 L397.7,363.9 L401.4,363.2 L405.3,362.5 L409.1,361.7 L412.9,361.0 L416.8,360.2 L420.7,359.4 L424.7,358.5 L428.6,357.7 L432.6,356.8 L436.5,355.9 L440.5,355.0 L444.5,354.0 L448.5,353.0 L452.6,352.0 L456.6,351.0 L460.6,350.0 L464.7,348.9 L468.7,347.8 L472.8,346.7 L476.8,345.6 L480.9,344.5 L484.9,343.3 L489.0,342.1 L493.1,340.9 L497.1,339.7 L501.2,338.5 L505.2,337.2 L509.3,336.0 L513.3,334.7 L517.3,333.4 L521.3,332.1 L525.4,330.7 L529.4,329.4 L533.3,328.0 L537.3,326.7 L541.3,325.3 L545.2,323.9 L549.2,322.5 L553.1,321.0 L557.0,319.6 L560.9,318.1 L564.7,316.7 L568.6,315.2 L572.4,313.7 L576.2,312.2 L579.9,310.7 L583.7,309.2 L587.4,307.7 L591.1,306.2 L594.8,304.6 L598.4,303.1 L602.0,301.5 L605.6,300.0 L609.1,298.4 L612.6,296.8 L616.1,295.3 L619.5,293.7 L622.9,292.1 L626.2,290.5 L629.6,288.9 L632.8,287.3 L636.1,285.7 L639.2,284.1 L642.4,282.5 L645.5,280.9 L648.5,279.3 L651.5,277.7 L654.4,276.1 L657.3,274.5 L660.2,272.9 L662.9,271.3 L665.7,269.7 L668.3,268.2 L671.0,266.6 L673.5,265.0 L676.0,263.4 L678.5,261.8 L680.9,260.3 L683.2,258.7 L685.4,257.2 L687.6,255.6 L689.8,254.1 L691.9,252.6 L693.9,251.0 L695.8,249.5 L697.7,248.0 L699.5,246.5 L701.3,245.0 L703.0,243.6 L704.6,242.1 L706.2,240.7 L707.7,239.2 L709.1,237.8 L710.5,236.4 L711.8,235.0 L713.0,233.6 L714.1,232.2 L715.2,230.9 L716.3,229.5 L717.2,228.2 L718.1,226.9 L719.0,225.6 L719.7,224.3 L720.4,223.0 L721.1,221.8 L721.6,220.6 L722.1,219.4 L722.6,218.2 L722.9,217.0 L723.2,215.8 L723.5,214.7 L723.6,213.6 L723.7,212.5 L723.7,211.4 L723.7,210.3 L723.6,209.3 L723.4,208.3Z" class="jd" clip-path="url(#cs)"/>
<path d="M355.3,369.4 L369.7,369.4 M357.4,364.3 L367.6,374.5 M362.5,362.2 L362.5,376.6 M367.6,364.3 L357.4,374.5 " class="as2"/><path d="M355.3,369.4 L369.7,369.4 M357.4,364.3 L367.6,374.5 M362.5,362.2 L362.5,376.6 M367.6,364.3 L357.4,374.5 " class="as"/><circle cx="362.5" cy="369.4" r="2.6" fill="#1c34f2"/>
<path d="M362.6,369.2 L363.7,368.7 L365.2,368.0 L366.8,367.2 L368.8,366.3 L370.9,365.3 L373.3,364.2 L375.9,363.1 L378.6,362.0 L381.5,360.9 L384.7,359.8 L388.0,358.6 L391.6,357.4 L395.3,356.0 L399.3,354.6 L403.5,353.1 L407.8,351.4 L412.3,349.6 L417.1,347.6 L422.0,345.5 L427.1,343.3 L432.4,341.0 L438.0,338.6 L443.7,336.2 L449.7,333.7 L455.9,331.2 L462.5,328.6 L469.2,325.9 L476.2,323.2 L483.3,320.4 L490.5,317.5 L497.8,314.5 L505.1,311.4 L512.5,308.2 L520.1,304.8 L527.9,301.4 L535.7,297.8 L543.5,294.2 L551.4,290.5 L559.2,286.8 L566.9,283.1 L574.6,279.3 L582.3,275.4 L590.0,271.4 L597.7,267.4 L605.3,263.4 L612.9,259.4 L620.3,255.4 L627.6,251.5 L634.8,247.7 L642.1,243.9 L649.3,240.2 L656.4,236.5 L663.3,232.8 L669.9,229.0 L676.3,225.0 L682.2,221.0 L687.8,216.8 L693.1,212.3 L698.1,207.8 L702.8,203.2 L707.3,198.6 L711.5,194.1 L715.5,189.7 L719.2,185.5 L722.7,181.5 L726.0,177.8 L729.0,174.2 L731.8,170.6 L734.3,167.1 L736.5,163.5 L738.4,159.8 L740.0,156.0 L741.2,152.0 L742.1,147.8 L742.6,143.6 L742.8,139.3 L742.8,135.1 L742.6,130.9 L742.1,126.8 L741.5,123.0 L740.7,119.3 L739.5,115.8 L738.2,112.3 L736.6,109.0 L734.8,105.7 L732.9,102.6 L731.0,99.5 L728.9,96.5 L726.7,93.6 L724.3,90.7 L721.7,87.9 L719.0,85.2 L716.3,82.6 L713.5,80.2 L710.8,77.8 L708.2,75.6 L705.6,73.5 L703.0,71.6 L700.3,69.8 L697.7,68.1 L695.1,66.5 L692.6,65.0 L690.2,63.6 L687.9,62.4 L685.7,61.3 L683.5,60.3 L681.4,59.4 L679.4,58.7 L677.5,58.0 L675.9,57.5 L674.5,57.0 L673.4,56.6" class="bd"/>
<path d="M372.4,355.8 L384.8,368.2 M372.4,368.2 L384.8,355.8" class="xm"/><path d="M401.6,345.2 L414.0,357.6 M401.6,357.6 L414.0,345.2" class="xm"/><path d="M443.5,327.5 L455.9,339.9 M443.5,339.9 L455.9,327.5" class="xm"/><path d="M498.9,305.2 L511.3,317.6 M498.9,317.6 L511.3,305.2" class="xm"/><path d="M560.7,276.9 L573.1,289.3 M560.7,289.3 L573.1,276.9" class="xm"/><path d="M621.4,245.3 L633.8,257.7 M621.4,257.7 L633.8,245.3" class="xm"/><path d="M676.0,214.8 L688.4,227.2 M676.0,227.2 L688.4,214.8" class="xm"/><path d="M713.0,179.3 L725.4,191.7 M713.0,191.7 L725.4,179.3" class="xm"/><path d="M733.8,149.8 L746.2,162.2 M733.8,162.2 L746.2,149.8" class="xm"/><path d="M735.3,129.2 L741.5,123.0" class="xm"/><path d="M722.7,102.7 L728.9,96.5" class="xm"/><path d="M702.0,81.8 L708.2,75.6" class="xm"/><path d="M681.7,68.6 L687.9,62.4" class="xm"/>
<path d="M667.2,50.4 L679.6,62.8 M667.2,62.8 L679.6,50.4" class="xm"/>
<circle cx="673.6" cy="56.6" r="6" fill="none" stroke="#ee2040" stroke-width="2.4"/>
<line x1="114.0" y1="552.2" x2="114.0" y2="37.1" class="ax"/><line x1="114.0" y1="552.2" x2="766.8" y2="557.6" class="axy"/><line x1="766.8" y1="557.6" x2="876.0" y2="522.1" class="ax"/>
<line x1="97.5" y1="552.2" x2="114.0" y2="552.2" class="tk"/><line x1="97.5" y1="466.4" x2="114.0" y2="466.4" class="tk"/><line x1="97.5" y1="380.5" x2="114.0" y2="380.5" class="tk"/><line x1="97.5" y1="294.7" x2="114.0" y2="294.7" class="tk"/><line x1="97.5" y1="208.8" x2="114.0" y2="208.8" class="tk"/><line x1="97.5" y1="123.0" x2="114.0" y2="123.0" class="tk"/><line x1="97.5" y1="37.1" x2="114.0" y2="37.1" class="tk"/><line x1="114.0" y1="552.2" x2="114.0" y2="568.7" class="tk"/><line x1="222.8" y1="553.1" x2="222.8" y2="569.6" class="tk"/><line x1="331.6" y1="554.0" x2="331.6" y2="570.5" class="tk"/><line x1="440.4" y1="554.9" x2="440.4" y2="571.4" class="tk"/><line x1="549.2" y1="555.8" x2="549.2" y2="572.3" class="tk"/><line x1="658.0" y1="556.7" x2="658.0" y2="573.2" class="tk"/><line x1="766.8" y1="557.6" x2="766.8" y2="574.1" class="tk"/><line x1="876.0" y1="522.1" x2="876.0" y2="538.6" class="tk"/><line x1="821.4" y1="539.9" x2="821.4" y2="556.4" class="tk"/><line x1="766.8" y1="557.6" x2="766.8" y2="574.1" class="tk"/>
<text x="89" y="558.6" text-anchor="end" class="tl">-0.15</text><text x="89" y="472.8" text-anchor="end" class="tl">-0.1</text><text x="89" y="386.9" text-anchor="end" class="tl">-0.05</text><text x="89" y="301.1" text-anchor="end" class="tl">0</text><text x="89" y="215.2" text-anchor="end" class="tl">0.05</text><text x="89" y="129.4" text-anchor="end" class="tl">0.1</text><text x="89" y="43.5" text-anchor="end" class="tl">0.15</text><text x="114.0" y="598.0" text-anchor="middle" class="tl">-1.5</text><text x="222.8" y="598.9" text-anchor="middle" class="tl">-1</text><text x="331.6" y="599.8" text-anchor="middle" class="tl">-0.5</text><text x="440.4" y="600.7" text-anchor="middle" class="tl">0</text><text x="549.2" y="601.6" text-anchor="middle" class="tl">0.5</text><text x="658.0" y="602.5" text-anchor="middle" class="tl">1</text><text x="766.8" y="603.4" text-anchor="middle" class="tl" letter-spacing="-3">125</text><text x="821.4" y="585.4" text-anchor="middle" class="tl">0</text><text x="876.0" y="567.6" text-anchor="middle" class="tl">-2</text><text x="310" y="640" text-anchor="middle" class="al">Y/AU</text><text x="843" y="617" text-anchor="middle" class="al">X/AU</text><text transform="translate(20,305) rotate(-90)" text-anchor="middle" class="al">Z/AU</text>
<rect x="585.5" y="397.8" width="289.1" height="159.49999999999994" class="lb"/><text x="681.2" y="421.4" class="lt">2015 JD 3 orbit</text><text x="681.2" y="446.4" class="lt">Initial point</text><text x="681.2" y="471.6" class="lt">Target point</text><text x="681.2" y="497.8" class="lt">2012 KB4</text><text x="681.2" y="523.2" class="lt">Direct optimization</text><text x="681.2" y="548.6" class="lt">Proposed method</text><line x1="599.4" y1="414.2" x2="616.8" y2="414.2" class="lbl"/><line x1="627.3" y1="414.2" x2="643.9" y2="414.2" class="lbl"/><line x1="654.3" y1="414.2" x2="670.9" y2="414.2" class="lbl"/><circle cx="636.4" cy="413.8" r="2.8" fill="#2a3cf0"/><path d="M629.4,439.2 L643.8,439.2 M631.5,434.1 L641.7,444.3 M636.6,432.0 L636.6,446.4 M641.7,434.1 L631.5,444.3 " class="las"/><circle cx="636.6" cy="464.4" r="6.6" class="lci"/><line x1="599.4" y1="490.6" x2="675.4" y2="490.6" class="lk"/><rect x="634.1" y="488.1" width="5" height="5" fill="#111"/><line x1="599.4" y1="516" x2="616.8" y2="516" class="lrd"/><line x1="627.3" y1="516" x2="643.9" y2="516" class="lrd"/><line x1="654.3" y1="516" x2="670.9" y2="516" class="lrd"/><path d="M636.6,511.4 L641.2,516.0 L636.6,520.6 L632.0,516.0Z" class="dm"/><line x1="599.4" y1="541.4" x2="616.8" y2="541.4" class="lgd"/><line x1="627.3" y1="541.4" x2="643.9" y2="541.4" class="lgd"/><line x1="654.3" y1="541.4" x2="670.9" y2="541.4" class="lgd"/><path d="M630.4,535.2 L642.8,547.6 M630.4,547.6 L642.8,535.2" class="lxm"/>
<line x1="875.3" y1="521.5" x2="875.3" y2="538.5" stroke="#2e3838" stroke-width="2.6"/>
</svg>
</body></html>
